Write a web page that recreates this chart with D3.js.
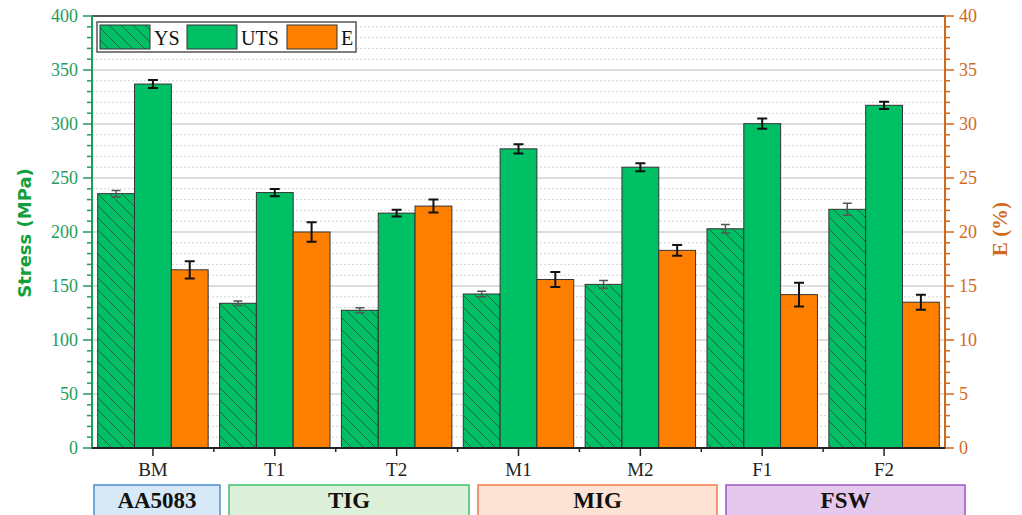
<!DOCTYPE html>
<html><head><meta charset="utf-8">
<script src="https://cdn.jsdelivr.net/npm/d3@7"></script>
<style>body{margin:0;background:#fff}svg{display:block}</style>
</head><body>
<svg id="c" width="1022" height="515"></svg>
<script>
const categories = ["BM","T1","T2","M1","M2","F1","F2"];
const series = ["YS","UTS","E"];
const ysVals  = [235.5,134,127.5,142.6,151.5,203,221];
const ysErr   = [3,2,2.3,2.5,3.5,4,5.6];
const utsVals = [337,236.5,217.5,277,260,300.3,317.3];
const utsErr  = [3.7,3.4,3.1,4.2,3.7,4.8,3.4];
const eVals   = [16.5,20.0,22.4,15.6,18.3,14.2,13.5];
const eErr    = [0.8,0.9,0.6,0.7,0.5,1.1,0.7];
const leftTicks = [0,50,100,150,200,250,300,350,400];
const rightTicks = [0,5,10,15,20,25,30,35,40];
const groups = [
  {name:"AA5083", x0:94,  x1:220, fill:"#d7e9f6", stroke:"#4f8fd0"},
  {name:"TIG",    x0:229, x1:469, fill:"#ddf0da", stroke:"#3cbf6a"},
  {name:"MIG",    x0:478, x1:717, fill:"#fde3d4", stroke:"#f07a45"},
  {name:"FSW",    x0:726, x1:965, fill:"#e5c9ec", stroke:"#9b55c2"}
];

const svg = d3.select("#c");
const L=92, R=945, T=16, B=448;
const green="#1f9c5c", orange="#d2691e";
const x = d3.scaleBand().domain(categories).range([L,R]).paddingInner(0).paddingOuter(0);
const xs = d3.scaleBand().domain(series).range([0,x.bandwidth()]).paddingInner(0).paddingOuter(0.155);
const y = d3.scaleLinear().domain([0,400]).range([B,T]);
const yR = d3.scaleLinear().domain([0,40]).range([B,T]);

const defs = svg.append("defs");
const pat = defs.append("pattern").attr("id","hatch").attr("patternUnits","userSpaceOnUse")
  .attr("width",12).attr("height",12);
pat.append("rect").attr("width",12).attr("height",12).attr("fill","#00c066");
pat.append("path").attr("d","M0,0L12,12M-3,9L3,15M9,-3L15,3").attr("stroke","#2e5e48").attr("stroke-width",1);

// grid
const minor = d3.range(10,400,10).filter(v=>v%50!==0);
svg.append("g").selectAll("line").data(minor).join("line")
  .attr("x1",L).attr("x2",R).attr("y1",d=>y(d)).attr("y2",d=>y(d))
  .attr("stroke","#d4d4d4").attr("stroke-width",1).attr("stroke-dasharray","2,2");
svg.append("g").selectAll("line").data(leftTicks.filter(v=>v>0&&v<400)).join("line")
  .attr("x1",L).attr("x2",R).attr("y1",d=>y(d)).attr("y2",d=>y(d))
  .attr("stroke","#d2d2d2").attr("stroke-width",1.5);

// bars
const rows = categories.map((c,i)=>({c, ys:ysVals[i], ysE:ysErr[i], uts:utsVals[i], utsE:utsErr[i], e:eVals[i], eE:eErr[i]}));
const g = svg.append("g");
rows.forEach(r=>{
  const bx = x(r.c);
  const bars = [
    {s:"YS", top:y(r.ys), lo:y(r.ys-r.ysE), hi:y(r.ys+r.ysE), fill:"url(#hatch)", ec:"#555", ew:1.5},
    {s:"UTS", top:y(r.uts), lo:y(r.uts-r.utsE), hi:y(r.uts+r.utsE), fill:"#00c066", ec:"#111", ew:2},
    {s:"E", top:yR(r.e), lo:yR(r.e-r.eE), hi:yR(r.e+r.eE), fill:"#ff8000", ec:"#111", ew:2}
  ];
  bars.forEach(b=>{
    const x0 = bx+xs(b.s), w = xs.bandwidth();
    g.append("rect").attr("x",x0).attr("y",b.top).attr("width",w).attr("height",B-b.top)
      .attr("fill",b.fill).attr("stroke","#333").attr("stroke-width",1);
    const cx = x0+w/2, cw = b.s==="YS"?4.5:5;
    g.append("path").attr("d",`M${cx},${b.lo}V${b.hi}M${cx-cw},${b.lo}H${cx+cw}M${cx-cw},${b.hi}H${cx+cw}`)
      .attr("stroke",b.ec).attr("stroke-width",b.ew).attr("fill","none");
  });
});

// top frame
svg.append("line").attr("x1",L).attr("x2",R).attr("y1",T).attr("y2",T).attr("stroke","#222").attr("stroke-width",1.5);

// left axis
const la = svg.append("g").attr("transform",`translate(${L},0)`);
la.append("line").attr("y1",T).attr("y2",B+1).attr("stroke",green).attr("stroke-width",2);
la.selectAll(".mn").data(d3.range(0,401,10)).join("line")
  .attr("x1",d=>d%50===0?-9:-5).attr("x2",0).attr("y1",d=>y(d)).attr("y2",d=>y(d))
  .attr("stroke",green).attr("stroke-width",1.5);
la.selectAll("text").data(leftTicks).join("text")
  .attr("x",-14).attr("y",d=>y(d)).attr("dy","0.35em").attr("text-anchor","end")
  .attr("fill",green).attr("font-family","Liberation Serif, serif").attr("font-size",18).text(d=>d);

// right axis
const ra = svg.append("g").attr("transform",`translate(${R},0)`);
ra.append("line").attr("y1",T).attr("y2",B+1).attr("stroke",orange).attr("stroke-width",2);
ra.selectAll(".mn").data(d3.range(0,40.1,1)).join("line")
  .attr("x1",0).attr("x2",d=>d%5===0?9:5).attr("y1",d=>yR(d)).attr("y2",d=>yR(d))
  .attr("stroke",orange).attr("stroke-width",1.5);
ra.selectAll("text").data(rightTicks).join("text")
  .attr("x",14).attr("y",d=>yR(d)).attr("dy","0.35em").attr("text-anchor","start")
  .attr("fill",orange).attr("font-family","Liberation Serif, serif").attr("font-size",18).text(d=>d);

// bottom axis
svg.append("line").attr("x1",L).attr("x2",R).attr("y1",B).attr("y2",B).attr("stroke","#222").attr("stroke-width",2);
svg.append("g").selectAll("line").data(categories).join("line")
  .attr("x1",d=>x(d)+x.bandwidth()/2).attr("x2",d=>x(d)+x.bandwidth()/2).attr("y1",B).attr("y2",B+8)
  .attr("stroke","#222").attr("stroke-width",1.5);
svg.append("g").selectAll("line").data(categories.slice(1)).join("line")
  .attr("x1",d=>x(d)).attr("x2",d=>x(d)).attr("y1",B).attr("y2",B+4)
  .attr("stroke","#222").attr("stroke-width",1.5);
svg.append("g").selectAll("text").data(categories).join("text")
  .attr("x",d=>x(d)+x.bandwidth()/2).attr("y",476).attr("text-anchor","middle")
  .attr("font-family","Liberation Serif, serif").attr("font-size",19).attr("fill","#222").text(d=>d);

// titles
svg.append("text").attr("transform","translate(31,233) rotate(-90)").attr("text-anchor","middle")
  .attr("font-family","DejaVu Sans, sans-serif").attr("font-weight","bold").attr("font-size",18)
  .attr("fill","#13a03c").text("Stress (MPa)");
svg.append("text").attr("transform","translate(1007,229) rotate(-90)").attr("text-anchor","middle")
  .attr("font-family","Liberation Serif, serif").attr("font-weight","bold").attr("font-size",21)
  .attr("fill",orange).text("E (%)");

// legend
const lg = svg.append("g");
lg.append("rect").attr("x",97).attr("y",22).attr("width",259).attr("height",30).attr("fill","#fff").attr("stroke","#555").attr("stroke-width",1.5);
const legItems = [{s:"YS",fill:"url(#hatch)",x:100},{s:"UTS",fill:"#00c066",x:187},{s:"E",fill:"#ff8000",x:287}];
legItems.forEach(it=>{
  lg.append("rect").attr("x",it.x).attr("y",25).attr("width",50).attr("height",24).attr("fill",it.fill).attr("stroke","#333").attr("stroke-width",1);
  lg.append("text").attr("x",it.x+54).attr("y",45).attr("font-family","Liberation Serif, serif").attr("font-size",20).attr("fill","#111").text(it.s);
});

// group boxes
const gb = svg.append("g");
groups.forEach(gr=>{
  gb.append("rect").attr("x",gr.x0).attr("y",485).attr("width",gr.x1-gr.x0).attr("height",40)
    .attr("fill",gr.fill).attr("stroke",gr.stroke).attr("stroke-width",1.5);
  gb.append("text").attr("x",(gr.x0+gr.x1)/2).attr("y",508).attr("text-anchor","middle")
    .attr("font-family","Liberation Serif, serif").attr("font-weight","bold").attr("font-size",23)
    .attr("fill","#111").text(gr.name);
});
</script>
</body></html>
